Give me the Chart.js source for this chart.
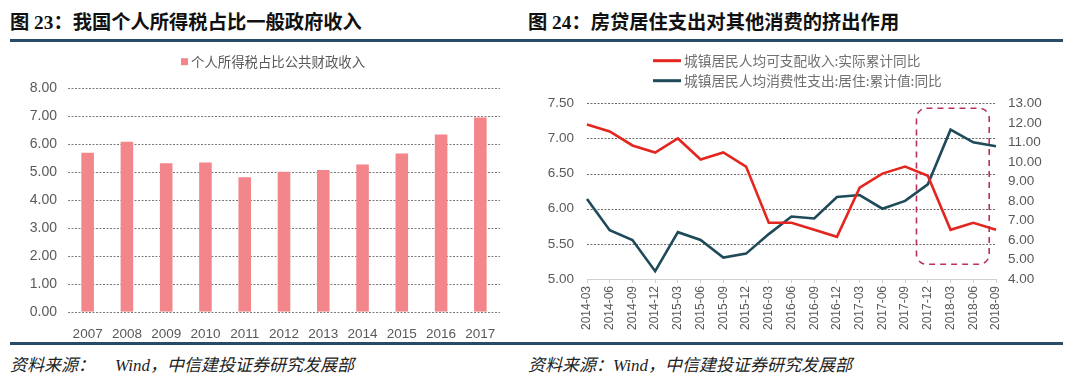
<!DOCTYPE html>
<html>
<head>
<meta charset="utf-8">
<script src="https://cdn.jsdelivr.net/npm/chart.js@4/dist/chart.umd.min.js"></script>
<style>
  html, body { margin: 0; padding: 0; background: #fff; }
  body { width: 1080px; height: 389px; position: relative; overflow: hidden; }
  .title { position: absolute; top: 7px; font: bold 19.3px "Liberation Serif", "Noto Sans CJK SC", sans-serif; color: #111; white-space: nowrap; }
  .rule { position: absolute; left: 10px; width: 1053px; height: 3px; background: #2a4b66; }
  .src { position: absolute; top: 351px; font: italic 17px "Liberation Serif", "Noto Sans CJK SC", serif; color: #222; white-space: nowrap; }
  canvas { position: absolute; }
</style>
</head>
<body>
<div class="title" style="left:10px">图 23：我国个人所得税占比一般政府收入</div>
<div class="title" style="left:528px">图 24：房贷居住支出对其他消费的挤出作用</div>
<div class="rule" style="top:39px"></div>
<div class="rule" style="top:342px"></div>
<div class="src" style="left:10px">资料来源：</div>
<div class="src" style="left:115px">Wind，中信建投证券研究发展部</div>
<div class="src" style="left:528px">资料来源：Wind，中信建投证券研究发展部</div>

<canvas id="c1" width="530" height="295" style="left:0;top:45px"></canvas>
<canvas id="c2" width="550" height="295" style="left:530px;top:45px"></canvas>

<script>
// ---- chart 23 data ----
const years = ['2007', '2008', '2009', '2010', '2011', '2012', '2013', '2014', '2015', '2016', '2017'];
const taxShare = [5.68, 6.07, 5.30, 5.33, 4.80, 5.00, 5.06, 5.26, 5.65, 6.33, 6.94];
const taxLabel = '个人所得税占比公共财政收入';
const taxTicks = [0, 8, 1];

// ---- chart 24 data ----
const quarters = ['2014-03', '2014-06', '2014-09', '2014-12', '2015-03', '2015-06', '2015-09', '2015-12',
  '2016-03', '2016-06', '2016-09', '2016-12', '2017-03', '2017-06', '2017-09', '2017-12',
  '2018-03', '2018-06', '2018-09'];
const incomeYoY = [7.2, 7.1, 6.9, 6.8, 7.0, 6.7, 6.8, 6.6, 5.8, 5.8, 5.7, 5.6, 6.3, 6.5, 6.6, 6.47, 5.7, 5.8, 5.7];
const housingYoY = [8.1, 6.5, 6.0, 4.4, 6.4, 6.0, 5.1, 5.3, 6.3, 7.2, 7.1, 8.2, 8.3, 7.6, 8.0, 8.85, 11.65, 11.0, 10.8];
const incomeLabel = '城镇居民人均可支配收入:实际累计同比';
const housingLabel = '城镇居民人均消费性支出:居住:累计值:同比';
const leftTicks = [5, 7.5, 0.5];
const rightTicks = [4, 13, 1];
// highlighted window (category index range, left-axis value range)
const boxX = [14.5, 17.7];
const boxY = [5.21, 7.43];

const tickGrey = '#595959';
const fontFam = '"Liberation Sans", Arial, "Noto Sans CJK SC", sans-serif';

// dotted horizontal grid, one line per tick of the given axis
const gridPlugin = {
  id: 'dotGrid',
  beforeDatasetsDraw(chart, args, opts) {
    const s = chart.scales[opts.axis];
    const xs = chart.scales.x;
    const ctx = chart.ctx;
    ctx.save();
    ctx.strokeStyle = opts.color;
    ctx.lineWidth = 1;
    ctx.setLineDash([2, 1.5]);
    s.ticks.forEach((t, i) => {
      if (opts.skipMin && i === 0) return;
      const py = Math.round(s.getPixelForValue(t.value)) + 0.5;
      ctx.beginPath();
      ctx.moveTo(xs.left, py);
      ctx.lineTo(xs.right, py);
      ctx.stroke();
    });
    ctx.restore();
  }
};

// small legend drawer for both charts
const legendPlugin = {
  id: 'handLegend',
  afterDraw(chart, args, opts) {
    const ctx = chart.ctx;
    ctx.save();
    ctx.font = opts.font;
    ctx.textBaseline = 'middle';
    ctx.textAlign = 'left';
    opts.items.forEach((it, i) => {
      const ds = chart.data.datasets[i];
      const y = it.y;
      if (opts.kind === 'box') {
        ctx.fillStyle = ds.backgroundColor;
        ctx.fillRect(it.x, y - 3.5, 7, 7);
        ctx.fillStyle = opts.color;
        ctx.fillText(ds.label, it.x + 10, y);
      } else {
        ctx.strokeStyle = ds.borderColor;
        ctx.lineWidth = 3;
        ctx.beginPath();
        ctx.moveTo(it.x, y);
        ctx.lineTo(it.x + 28, y);
        ctx.stroke();
        ctx.fillStyle = opts.color;
        ctx.fillText(ds.label, it.x + 31, y);
      }
    });
    ctx.restore();
  }
};

const boxPlugin = {
  id: 'dashBox',
  afterDatasetsDraw(chart) {
    const x = chart.scales.x, y = chart.scales.yL;
    const x0 = x.getPixelForValue(boxX[0]), x1 = x.getPixelForValue(boxX[1]);
    const y0 = y.getPixelForValue(boxY[1]), y1 = y.getPixelForValue(boxY[0]);
    const ctx = chart.ctx;
    ctx.save();
    ctx.strokeStyle = '#b8325a';
    ctx.lineWidth = 1.6;
    ctx.setLineDash([6, 5]);
    ctx.beginPath();
    ctx.roundRect(x0, y0, x1 - x0, y1 - y0, 10);
    ctx.stroke();
    ctx.restore();
  }
};

new Chart(document.getElementById('c1'), {
  type: 'bar',
  data: {
    labels: years,
    datasets: [{
      label: taxLabel,
      data: taxShare,
      backgroundColor: '#f2868a',
      barPercentage: 0.64,
      categoryPercentage: 0.5
    }]
  },
  options: {
    responsive: false,
    animation: false,
    devicePixelRatio: 1,
    layout: { padding: { top: 42.7, right: 30, left: 0, bottom: 0 } },
    plugins: {
      legend: { display: false },
      tooltip: { enabled: false },
      dotGrid: { axis: 'y', color: '#7a7a7a' },
      handLegend: {
        kind: 'box',
        font: '13.4px "Noto Sans CJK SC", sans-serif',
        color: tickGrey,
        items: [{ x: 181, y: 16.7 }]
      }
    },
    scales: {
      x: {
        grid: { display: false },
        border: { display: false },
        ticks: { color: tickGrey, font: { family: fontFam, size: 13.5 }, padding: 6, maxRotation: 0 },
        afterFit(s) { s.height = 28.3; }
      },
      y: {
        min: taxTicks[0], max: taxTicks[1],
        ticks: { stepSize: taxTicks[2], color: tickGrey, font: { family: fontFam, size: 14 }, padding: 11,
          callback: v => v.toFixed(2) },
        grid: { display: false, drawTicks: false },
        border: { display: false },
        afterFit(s) { s.width = 68; }
      }
    }
  },
  plugins: [gridPlugin, legendPlugin]
});

new Chart(document.getElementById('c2'), {
  type: 'line',
  data: {
    labels: quarters,
    datasets: [{
      label: incomeLabel,
      data: incomeYoY,
      yAxisID: 'yL',
      borderColor: '#e3261f',
      backgroundColor: '#e3261f',
      borderWidth: 2.6,
      pointRadius: 0,
      tension: 0
    }, {
      label: housingLabel,
      data: housingYoY,
      yAxisID: 'yR',
      borderColor: '#1f4a5a',
      backgroundColor: '#1f4a5a',
      borderWidth: 2.6,
      pointRadius: 0,
      tension: 0
    }]
  },
  options: {
    responsive: false,
    animation: false,
    devicePixelRatio: 1,
    layout: { padding: { top: 58.3, right: 0, left: 0, bottom: 0 } },
    plugins: {
      legend: { display: false },
      tooltip: { enabled: false },
      dotGrid: { axis: 'yL', color: '#6a6a6a', skipMin: true },
      handLegend: {
        kind: 'line',
        font: '13.7px "Noto Sans CJK SC", sans-serif',
        color: '#707070',
        items: [{ x: 123, y: 15.7 }, { x: 123, y: 35.7 }]
      }
    },
    scales: {
      x: {
        offset: false,
        grid: { drawOnChartArea: false, drawTicks: true, tickLength: 4, color: '#d0d0d0' },
        border: { display: true, color: '#d0d0d0' },
        ticks: { color: tickGrey, font: { family: fontFam, size: 12 }, padding: 3,
          minRotation: 90, maxRotation: 90, autoSkip: false },
        afterFit(s) { s.height = 61; }
      },
      yL: {
        position: 'left',
        min: leftTicks[0], max: leftTicks[1],
        ticks: { stepSize: leftTicks[2], color: tickGrey, font: { family: fontFam, size: 13.5 }, padding: 13,
          callback: v => v.toFixed(2) },
        grid: { display: false, drawTicks: false },
        border: { display: false },
        afterFit(s) { s.width = 57; }
      },
      yR: {
        position: 'right',
        min: rightTicks[0], max: rightTicks[1],
        ticks: { stepSize: rightTicks[2], color: tickGrey, font: { family: fontFam, size: 13.5 }, padding: 12,
          callback: v => v.toFixed(2) },
        grid: { display: false, drawTicks: false },
        border: { display: false },
        afterFit(s) { s.width = 84; }
      }
    }
  },
  plugins: [gridPlugin, legendPlugin, boxPlugin]
});
</script>
</body>
</html>
